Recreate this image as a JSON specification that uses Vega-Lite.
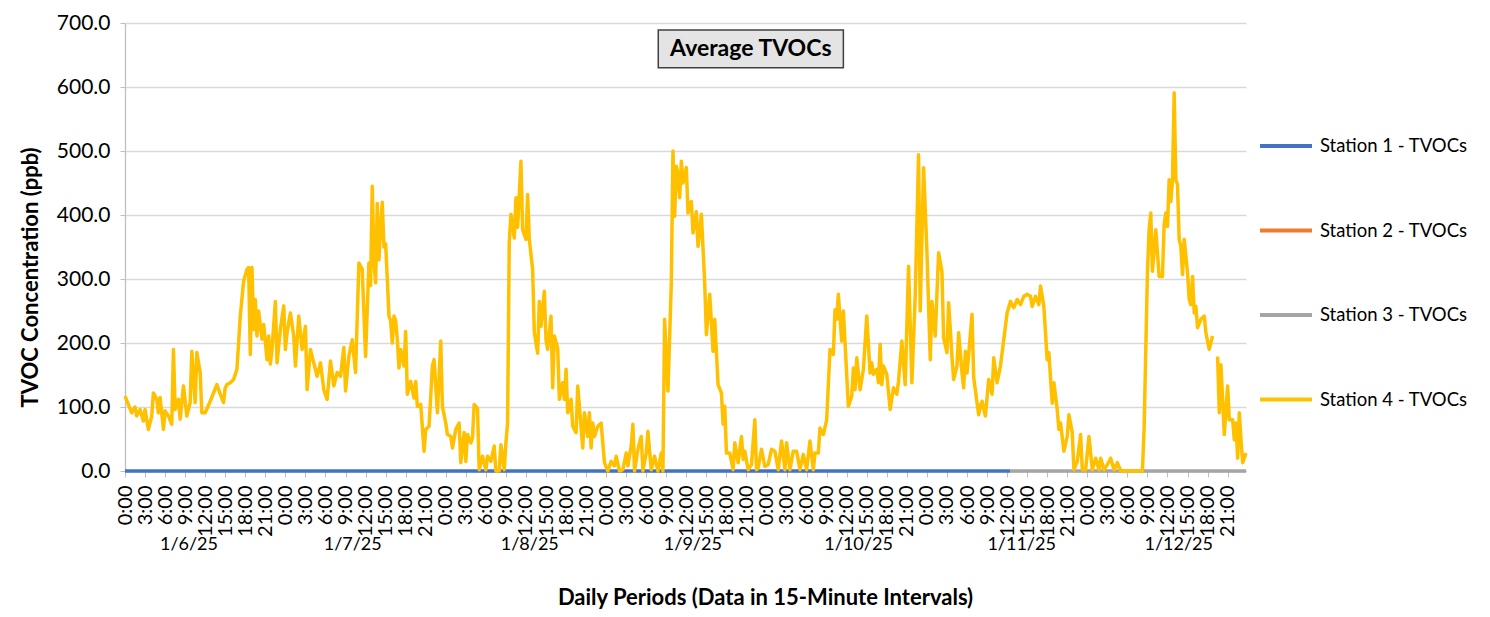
{
  "$schema": "https://vega.github.io/schema/vega-lite/v6.json",
  "width": 1121,
  "height": 448,
  "autosize": {"type": "none"},
  "padding": {"left": 125, "top": 23, "right": 244, "bottom": 146},
  "background": "#ffffff",
  "config": {
    "font": "Lato",
    "view": {"stroke": null},
    "axis": {"labelFont": "Lato", "titleFont": "Lato", "labelColor": "#000000", "titleColor": "#000000"},
    "axisX": {"labelOverlap": false, "labelBound": false, "labelSeparation": 0},
    "legend": {"labelFont": "Lato"}
  },
  "layer": [
    {
      "layer": [
        {
          "data": {"values": [
            {"hour": 0, "ppb": 0}, {"hour": 6, "ppb": 0}, {"hour": 12, "ppb": 0}, {"hour": 18, "ppb": 0},
            {"hour": 24, "ppb": 0}, {"hour": 30, "ppb": 0}, {"hour": 36, "ppb": 0}, {"hour": 42, "ppb": 0},
            {"hour": 48, "ppb": 0}, {"hour": 54, "ppb": 0}, {"hour": 60, "ppb": 0}, {"hour": 66, "ppb": 0},
            {"hour": 72, "ppb": 0}, {"hour": 78, "ppb": 0}, {"hour": 84, "ppb": 0}, {"hour": 90, "ppb": 0},
            {"hour": 96, "ppb": 0}, {"hour": 102, "ppb": 0}, {"hour": 108, "ppb": 0}, {"hour": 114, "ppb": 0},
            {"hour": 120, "ppb": 0}, {"hour": 126, "ppb": 0}, {"hour": 132.5, "ppb": 0}
          ]},
          "mark": {"type": "line", "strokeWidth": 3.5},
          "encoding": {
            "x": {"field": "hour", "type": "quantitative",
              "scale": {"domain": [0, 167.75], "nice": false, "zero": false},
              "axis": {
                "values": [0,3,6,9,12,15,18,21,24,27,30,33,36,39,42,45,48,51,54,57,60,63,66,69,72,75,78,81,84,87,90,93,96,99,102,105,108,111,114,117,120,123,126,129,132,135,138,141,144,147,150,153,156,159,162,165],
                "tickCount": 200,
                "labelExpr": "(datum.value % 24) + ':00'",
                "labelAngle": 270, "labelAlign": "right", "labelBaseline": "middle",
                "labelFontSize": 20, "labelPadding": 8, "labelOverlap": false, "labelSeparation": 0, "labelBound": false,
                "tickSize": 6, "tickColor": "#bfbfbf", "domainColor": "#bfbfbf", "domainWidth": 1.3,
                "grid": false, "title": null
              }
            },
            "y": {"field": "ppb", "type": "quantitative",
              "scale": {"domain": [0, 700], "nice": false},
              "axis": {
                "values": [0,100,200,300,400,500,600,700], "format": ".1f",
                "labelFontSize": 21, "labelPadding": 10,
                "tickSize": 5, "tickColor": "#bfbfbf", "domainColor": "#bfbfbf", "domainWidth": 1.3,
                "gridColor": "#d9d9d9", "gridWidth": 1.3,
                "title": "TVOC Concentration (ppb)", "titleFontSize": 22, "titleFontWeight": "bold",
                "titlePadding": 14, "titleY": 254
              }
            },
            "color": {"datum": "Station 1 - TVOCs", "type": "nominal",
              "scale": {"domain": ["Station 1 - TVOCs", "Station 2 - TVOCs", "Station 3 - TVOCs", "Station 4 - TVOCs"],
                        "range": ["#4472c4", "#ed7d31", "#a5a5a5", "#ffc000"]},
              "legend": {"orient": "none", "legendX": 1133, "legendY": 95, "title": null,
                "symbolType": "stroke", "symbolSize": 2704, "symbolStrokeWidth": 4,
                "labelFontSize": 18.5, "labelColor": "#000000", "labelOffset": 6, "rowPadding": 46.5}
            }
          }
        },
        {
          "data": {"values": [
            {"hour": 132.5, "ppb": 0}, {"hour": 138, "ppb": 0}, {"hour": 144, "ppb": 0}, {"hour": 150, "ppb": 0},
            {"hour": 156, "ppb": 0}, {"hour": 162, "ppb": 0}, {"hour": 167.75, "ppb": 0}
          ]},
          "mark": {"type": "line", "strokeWidth": 3.5},
          "encoding": {
            "x": {"field": "hour", "type": "quantitative"},
            "y": {"field": "ppb", "type": "quantitative"},
            "color": {"datum": "Station 3 - TVOCs", "type": "nominal"}
          }
        },
        {
          "data": {"values": [
            {"hour":0,"ppb":117},{"hour":1,"ppb":91},{"hour":1.5,"ppb":100},{"hour":1.75,"ppb":86},{"hour":2.25,"ppb":96},{"hour":2.75,"ppb":78},{"hour":3,"ppb":96},{"hour":3.5,"ppb":65},{"hour":4,"ppb":86},{"hour":4.25,"ppb":122},{"hour":4.75,"ppb":112},{"hour":5,"ppb":91},{"hour":5.25,"ppb":115},{"hour":5.75,"ppb":65},{"hour":6,"ppb":94},{"hour":6.5,"ppb":86},{"hour":7,"ppb":73},{"hour":7.25,"ppb":190},{"hour":7.5,"ppb":96},{"hour":8,"ppb":112},{"hour":8.25,"ppb":81},{"hour":8.75,"ppb":133},{"hour":9.25,"ppb":86},{"hour":9.75,"ppb":107},{"hour":10,"ppb":187},{"hour":10.5,"ppb":107},{"hour":10.75,"ppb":185},{"hour":11.25,"ppb":154},{"hour":11.5,"ppb":91},{"hour":12,"ppb":91},{"hour":12.75,"ppb":109},{"hour":13.75,"ppb":135},{"hour":14.25,"ppb":120},{"hour":14.75,"ppb":107},{"hour":15,"ppb":130},{"hour":15.25,"ppb":135},{"hour":15.75,"ppb":138},{"hour":16.25,"ppb":143},{"hour":16.75,"ppb":159},{"hour":17.25,"ppb":242},{"hour":17.75,"ppb":297},{"hour":18.25,"ppb":315},{"hour":18.5,"ppb":318},{"hour":18.75,"ppb":182},{"hour":19,"ppb":318},{"hour":19.25,"ppb":221},{"hour":19.5,"ppb":268},{"hour":19.75,"ppb":211},{"hour":20,"ppb":250},{"hour":20.5,"ppb":206},{"hour":20.75,"ppb":229},{"hour":21.25,"ppb":174},{"hour":21.5,"ppb":211},{"hour":21.75,"ppb":167},{"hour":22,"ppb":190},{"hour":22.5,"ppb":265},{"hour":22.75,"ppb":169},{"hour":23.25,"ppb":221},{"hour":23.75,"ppb":258},
            {"hour":24,"ppb":190},{"hour":24.25,"ppb":216},{"hour":24.75,"ppb":247},{"hour":25.25,"ppb":211},{"hour":25.5,"ppb":164},{"hour":26,"ppb":242},{"hour":26.5,"ppb":190},{"hour":27,"ppb":226},{"hour":27.25,"ppb":127},{"hour":27.75,"ppb":190},{"hour":28.25,"ppb":169},{"hour":28.75,"ppb":148},{"hour":29.25,"ppb":169},{"hour":29.75,"ppb":127},{"hour":30.25,"ppb":112},{"hour":30.75,"ppb":172},{"hour":31.25,"ppb":133},{"hour":31.75,"ppb":154},{"hour":32.25,"ppb":148},{"hour":32.75,"ppb":193},{"hour":33,"ppb":125},{"hour":33.5,"ppb":179},{"hour":34,"ppb":205},{"hour":34.5,"ppb":154},{"hour":35,"ppb":325},{"hour":35.5,"ppb":315},{"hour":36,"ppb":179},{"hour":36.5,"ppb":325},{"hour":36.75,"ppb":290},{"hour":37,"ppb":445},{"hour":37.25,"ppb":330},{"hour":37.5,"ppb":294},{"hour":37.75,"ppb":418},{"hour":38,"ppb":330},{"hour":38.25,"ppb":380},{"hour":38.5,"ppb":420},{"hour":38.75,"ppb":350},{"hour":39,"ppb":355},{"hour":39.25,"ppb":300},{"hour":39.5,"ppb":242},{"hour":39.75,"ppb":235},{"hour":40,"ppb":200},{"hour":40.25,"ppb":242},{"hour":40.5,"ppb":235},{"hour":40.75,"ppb":206},{"hour":41,"ppb":161},{"hour":41.25,"ppb":190},{"hour":41.75,"ppb":164},{"hour":42,"ppb":218},{"hour":42.25,"ppb":120},{"hour":42.75,"ppb":140},{"hour":43.25,"ppb":114},{"hour":43.5,"ppb":140},{"hour":43.75,"ppb":101},{"hour":44.25,"ppb":104},{"hour":44.75,"ppb":31},{"hour":45,"ppb":65},{"hour":45.5,"ppb":70},{"hour":46,"ppb":164},{"hour":46.25,"ppb":174},{"hour":46.75,"ppb":91},{"hour":47.25,"ppb":203},{"hour":47.5,"ppb":101},
            {"hour":48,"ppb":75},{"hour":48.25,"ppb":57},{"hour":48.75,"ppb":54},{"hour":49,"ppb":36},{"hour":49.5,"ppb":65},{"hour":50,"ppb":75},{"hour":50.25,"ppb":13},{"hour":50.75,"ppb":60},{"hour":51,"ppb":15},{"hour":51.25,"ppb":57},{"hour":51.75,"ppb":44},{"hour":52,"ppb":52},{"hour":52.25,"ppb":104},{"hour":52.75,"ppb":98},{"hour":53,"ppb":2},{"hour":53.5,"ppb":23},{"hour":54,"ppb":2},{"hour":54.25,"ppb":23},{"hour":54.75,"ppb":15},{"hour":55.25,"ppb":39},{"hour":55.5,"ppb":0},{"hour":56,"ppb":0},{"hour":56.25,"ppb":41},{"hour":56.75,"ppb":2},{"hour":57,"ppb":44},{"hour":57.25,"ppb":75},{"hour":57.5,"ppb":357},{"hour":57.75,"ppb":401},{"hour":58.25,"ppb":364},{"hour":58.5,"ppb":427},{"hour":58.75,"ppb":381},{"hour":59.25,"ppb":484},{"hour":59.5,"ppb":377},{"hour":60,"ppb":362},{"hour":60.25,"ppb":432},{"hour":60.5,"ppb":362},{"hour":61,"ppb":315},{"hour":61.25,"ppb":216},{"hour":61.75,"ppb":184},{"hour":62,"ppb":265},{"hour":62.25,"ppb":226},{"hour":62.75,"ppb":281},{"hour":63,"ppb":205},{"hour":63.25,"ppb":190},{"hour":63.75,"ppb":242},{"hour":64,"ppb":130},{"hour":64.25,"ppb":211},{"hour":64.75,"ppb":192},{"hour":65,"ppb":112},{"hour":65.5,"ppb":138},{"hour":65.75,"ppb":112},{"hour":66,"ppb":159},{"hour":66.25,"ppb":91},{"hour":66.75,"ppb":112},{"hour":67,"ppb":70},{"hour":67.5,"ppb":60},{"hour":67.75,"ppb":133},{"hour":68.25,"ppb":68},{"hour":68.5,"ppb":36},{"hour":68.75,"ppb":91},{"hour":69.25,"ppb":54},{"hour":69.5,"ppb":91},{"hour":69.75,"ppb":36},{"hour":70,"ppb":75},{"hour":70.25,"ppb":54},{"hour":70.75,"ppb":70},{"hour":71.25,"ppb":75},{"hour":71.75,"ppb":13},
            {"hour":72.25,"ppb":0},{"hour":72.75,"ppb":15},{"hour":73.25,"ppb":8},{"hour":73.5,"ppb":23},{"hour":74,"ppb":0},{"hour":74.5,"ppb":2},{"hour":75,"ppb":28},{"hour":75.25,"ppb":8},{"hour":75.75,"ppb":39},{"hour":76,"ppb":73},{"hour":76.25,"ppb":0},{"hour":76.75,"ppb":34},{"hour":77.25,"ppb":54},{"hour":77.5,"ppb":0},{"hour":78,"ppb":28},{"hour":78.25,"ppb":62},{"hour":78.75,"ppb":2},{"hour":79.25,"ppb":23},{"hour":79.75,"ppb":0},{"hour":80.25,"ppb":28},{"hour":80.5,"ppb":0},{"hour":80.75,"ppb":237},{"hour":81.25,"ppb":125},{"hour":81.75,"ppb":294},{"hour":82,"ppb":500},{"hour":82.25,"ppb":398},{"hour":82.5,"ppb":476},{"hour":82.75,"ppb":463},{"hour":83,"ppb":427},{"hour":83.25,"ppb":484},{"hour":83.5,"ppb":450},{"hour":84,"ppb":474},{"hour":84.25,"ppb":403},{"hour":84.5,"ppb":419},{"hour":84.75,"ppb":421},{"hour":85,"ppb":372},{"hour":85.5,"ppb":405},{"hour":85.75,"ppb":351},{"hour":86.25,"ppb":401},{"hour":86.75,"ppb":294},{"hour":87,"ppb":213},{"hour":87.5,"ppb":276},{"hour":88,"ppb":187},{"hour":88.25,"ppb":237},{"hour":88.75,"ppb":135},{"hour":89.25,"ppb":122},{"hour":89.5,"ppb":73},{"hour":89.75,"ppb":101},{"hour":90,"ppb":28},{"hour":90.5,"ppb":28},{"hour":91,"ppb":2},{"hour":91.25,"ppb":44},{"hour":91.75,"ppb":13},{"hour":92.25,"ppb":54},{"hour":92.5,"ppb":18},{"hour":92.75,"ppb":31},{"hour":93.25,"ppb":2},{"hour":93.75,"ppb":10},{"hour":94.25,"ppb":80},{"hour":94.5,"ppb":2},{"hour":94.75,"ppb":5},{"hour":95.25,"ppb":34},{"hour":95.75,"ppb":7},
            {"hour":96.25,"ppb":10},{"hour":96.75,"ppb":34},{"hour":97.25,"ppb":31},{"hour":97.75,"ppb":2},{"hour":98.25,"ppb":47},{"hour":98.75,"ppb":2},{"hour":99,"ppb":44},{"hour":99.5,"ppb":2},{"hour":100,"ppb":31},{"hour":100.5,"ppb":31},{"hour":101,"ppb":2},{"hour":101.5,"ppb":26},{"hour":102,"ppb":2},{"hour":102.5,"ppb":47},{"hour":103,"ppb":2},{"hour":103.25,"ppb":28},{"hour":103.75,"ppb":28},{"hour":104,"ppb":67},{"hour":104.5,"ppb":57},{"hour":105,"ppb":80},{"hour":105.5,"ppb":190},{"hour":106,"ppb":182},{"hour":106.25,"ppb":252},{"hour":106.5,"ppb":237},{"hour":106.75,"ppb":276},{"hour":107.25,"ppb":203},{"hour":107.5,"ppb":250},{"hour":107.75,"ppb":200},{"hour":108.25,"ppb":101},{"hour":108.75,"ppb":117},{"hour":109,"ppb":161},{"hour":109.25,"ppb":127},{"hour":109.5,"ppb":177},{"hour":110,"ppb":127},{"hour":110.5,"ppb":159},{"hour":111,"ppb":242},{"hour":111.5,"ppb":153},{"hour":111.75,"ppb":169},{"hour":112,"ppb":151},{"hour":112.5,"ppb":159},{"hour":112.75,"ppb":138},{"hour":113,"ppb":198},{"hour":113.25,"ppb":135},{"hour":113.5,"ppb":164},{"hour":114,"ppb":151},{"hour":114.5,"ppb":96},{"hour":115,"ppb":130},{"hour":115.5,"ppb":120},{"hour":115.75,"ppb":140},{"hour":116.25,"ppb":203},{"hour":116.75,"ppb":135},{"hour":117.25,"ppb":320},{"hour":117.75,"ppb":138},{"hour":118.25,"ppb":273},{"hour":118.75,"ppb":494},{"hour":119,"ppb":250},{"hour":119.5,"ppb":474},
            {"hour":120,"ppb":344},{"hour":120.5,"ppb":174},{"hour":120.75,"ppb":265},{"hour":121.25,"ppb":211},{"hour":121.75,"ppb":341},{"hour":122.25,"ppb":312},{"hour":122.5,"ppb":208},{"hour":123,"ppb":185},{"hour":123.25,"ppb":263},{"hour":123.75,"ppb":179},{"hour":124,"ppb":143},{"hour":124.5,"ppb":164},{"hour":124.75,"ppb":216},{"hour":125.25,"ppb":153},{"hour":125.5,"ppb":130},{"hour":125.75,"ppb":187},{"hour":126,"ppb":153},{"hour":126.25,"ppb":182},{"hour":126.75,"ppb":245},{"hour":127,"ppb":146},{"hour":127.5,"ppb":107},{"hour":127.75,"ppb":88},{"hour":128,"ppb":101},{"hour":128.25,"ppb":109},{"hour":128.75,"ppb":86},{"hour":129.25,"ppb":143},{"hour":129.75,"ppb":120},{"hour":130,"ppb":177},{"hour":130.5,"ppb":138},{"hour":131,"ppb":164},{"hour":131.5,"ppb":205},{"hour":132,"ppb":247},{"hour":132.5,"ppb":265},{"hour":133,"ppb":255},{"hour":133.5,"ppb":268},{"hour":134,"ppb":260},{"hour":134.5,"ppb":273},{"hour":135,"ppb":276},{"hour":135.5,"ppb":273},{"hour":135.75,"ppb":257},{"hour":136.25,"ppb":273},{"hour":136.75,"ppb":260},{"hour":137,"ppb":289},{"hour":137.5,"ppb":257},{"hour":138,"ppb":174},{"hour":138.25,"ppb":185},{"hour":138.75,"ppb":106},{"hour":139,"ppb":138},{"hour":139.5,"ppb":96},{"hour":139.75,"ppb":65},{"hour":140,"ppb":75},{"hour":140.5,"ppb":31},{"hour":141,"ppb":54},{"hour":141.25,"ppb":88},{"hour":141.75,"ppb":60},{"hour":142,"ppb":2},{"hour":142.5,"ppb":15},{"hour":143,"ppb":57},{"hour":143.25,"ppb":2},{"hour":143.75,"ppb":2},
            {"hour":144.25,"ppb":54},{"hour":144.75,"ppb":2},{"hour":145.25,"ppb":20},{"hour":145.75,"ppb":2},{"hour":146,"ppb":20},{"hour":146.5,"ppb":2},{"hour":147,"ppb":10},{"hour":147.5,"ppb":20},{"hour":148,"ppb":2},{"hour":148.5,"ppb":13},{"hour":149,"ppb":0},{"hour":152.25,"ppb":0},{"hour":152.5,"ppb":65},{"hour":153,"ppb":310},{"hour":153.25,"ppb":377},{"hour":153.5,"ppb":403},{"hour":153.75,"ppb":312},{"hour":154.25,"ppb":377},{"hour":154.75,"ppb":304},{"hour":155.25,"ppb":304},{"hour":155.5,"ppb":385},{"hour":155.75,"ppb":403},{"hour":156,"ppb":382},{"hour":156.25,"ppb":455},{"hour":156.5,"ppb":421},{"hour":156.75,"ppb":455},{"hour":157,"ppb":591},{"hour":157.25,"ppb":455},{"hour":157.5,"ppb":448},{"hour":157.75,"ppb":362},{"hour":158,"ppb":351},{"hour":158.25,"ppb":307},{"hour":158.5,"ppb":362},{"hour":159,"ppb":310},{"hour":159.25,"ppb":268},{"hour":159.5,"ppb":260},{"hour":159.75,"ppb":304},{"hour":160,"ppb":247},{"hour":160.25,"ppb":257},{"hour":160.5,"ppb":224},{"hour":161,"ppb":237},{"hour":161.5,"ppb":242},{"hour":161.75,"ppb":216},{"hour":162.25,"ppb":190},{"hour":162.75,"ppb":211},{"hour":163,"ppb":null},{"hour":163.5,"ppb":179},{"hour":163.75,"ppb":91},{"hour":164,"ppb":166},{"hour":164.5,"ppb":57},{"hour":165,"ppb":133},{"hour":165.25,"ppb":80},{"hour":165.75,"ppb":80},{"hour":166,"ppb":49},{"hour":166.25,"ppb":75},{"hour":166.5,"ppb":20},{"hour":166.75,"ppb":91},{"hour":167,"ppb":49},{"hour":167.25,"ppb":13},{"hour":167.75,"ppb":28}
          ]},
          "mark": {"type": "line", "strokeWidth": 3.5, "strokeJoin": "round", "invalid": "break-paths-filter-domains"},
          "encoding": {
            "x": {"field": "hour", "type": "quantitative"},
            "y": {"field": "ppb", "type": "quantitative"},
            "color": {"datum": "Station 4 - TVOCs", "type": "nominal"}
          }
        },
        {
          "data": {"values": [{"label": "Average TVOCs"}]},
          "mark": {"type": "rect", "fill": "#e4e4e4", "stroke": "#404040", "strokeWidth": 1.5},
          "encoding": {
            "x": {"datum": 79.8, "type": "quantitative"},
            "x2": {"datum": 107.5},
            "y": {"datum": 689, "type": "quantitative"},
            "y2": {"datum": 630}
          }
        },
        {
          "data": {"values": [{"label": "Average TVOCs"}]},
          "mark": {"type": "text", "fontSize": 23, "fontWeight": "bold", "font": "Lato", "color": "#000000", "baseline": "middle", "align": "center"},
          "encoding": {
            "x": {"datum": 93.65, "type": "quantitative"},
            "y": {"datum": 659.5, "type": "quantitative"},
            "text": {"field": "label"}
          }
        }
      ]
    },
    {
      "data": {"values": [
        {"hour": 9.5, "date": "1/6/25"}, {"hour": 34, "date": "1/7/25"}, {"hour": 60.5, "date": "1/8/25"},
        {"hour": 84.9, "date": "1/9/25"}, {"hour": 109.7, "date": "1/10/25"}, {"hour": 134.1, "date": "1/11/25"},
        {"hour": 157.6, "date": "1/12/25"}
      ]},
      "mark": {"type": "point", "opacity": 0},
      "encoding": {
        "x": {"field": "hour", "type": "quantitative",
          "scale": {"domain": [0, 167.75], "nice": false, "zero": false},
          "axis": {
            "orient": "bottom",
            "values": [9.5, 34, 60.5, 84.9, 109.7, 134.1, 157.6],
            "tickCount": 50,
            "labelExpr": "['1/6/25','1/7/25','1/8/25','1/9/25','1/10/25','1/11/25','1/12/25'][floor(datum.value / 24)]",
            "labelFontSize": 18, "labelPadding": 64, "labelAngle": 0,
            "ticks": false, "domain": false, "grid": false,
            "title": "Daily Periods (Data in 15-Minute Intervals)", "titleFontSize": 22, "titleFontWeight": "bold",
            "titlePadding": 34, "titleX": 640
          }
        },
        "y": {"datum": 0, "type": "quantitative"}
      }
    }
  ],
  "resolve": {"scale": {"x": "independent"}}
}
